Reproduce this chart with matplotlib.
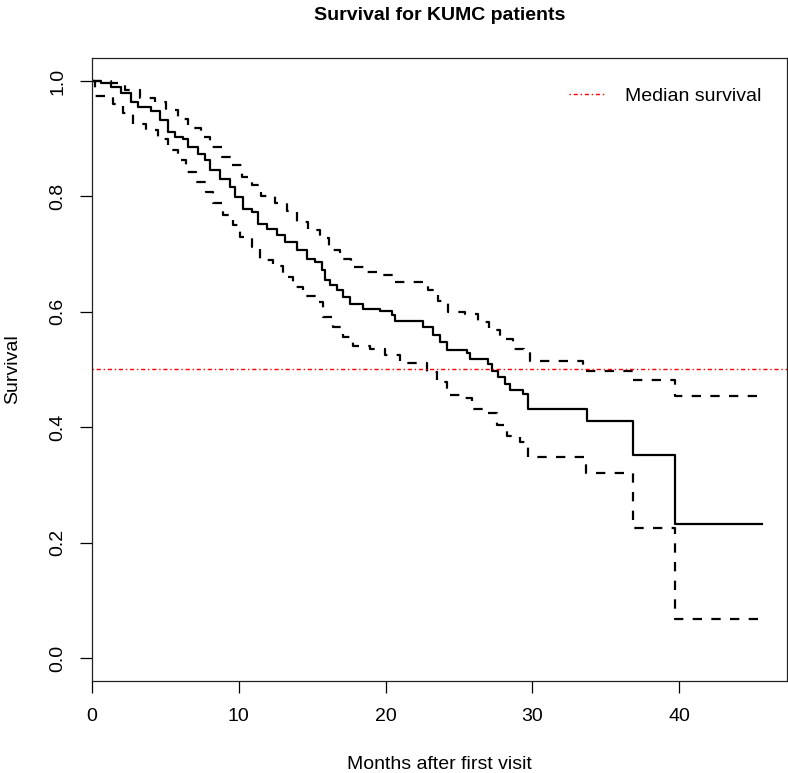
import numpy as np
import matplotlib.pyplot as plt

plt.rcParams["font.family"] = ["Liberation Sans", "DejaVu Sans"]

# Kaplan-Meier estimate (step after each time)
surv_t = [0, 0.61, 1.29, 1.98, 2.66, 3.13, 4.02, 4.63, 5.18, 5.66, 6.20, 6.54, 7.22,
          7.70, 8.04, 8.72, 9.40, 9.74, 10.29, 10.90, 11.31, 11.93, 12.61, 13.15,
          13.97, 14.65, 15.20, 15.67, 15.88, 16.22, 16.70, 17.10, 17.58, 18.47,
          19.63, 20.44, 20.65, 22.56, 23.24, 23.71, 24.19, 25.55, 25.76, 26.98,
          27.26, 27.67, 28.14, 28.48, 29.37, 29.71, 33.70, 36.87, 39.73, 45.63]
surv_s = [1.0, 0.996, 0.990, 0.979, 0.964, 0.955, 0.948, 0.932, 0.912, 0.903, 0.900,
          0.886, 0.874, 0.863, 0.845, 0.831, 0.817, 0.799, 0.779, 0.773, 0.753, 0.744,
          0.733, 0.721, 0.707, 0.692, 0.686, 0.672, 0.655, 0.646, 0.637, 0.626, 0.614,
          0.605, 0.602, 0.594, 0.584, 0.573, 0.559, 0.547, 0.533, 0.528, 0.519, 0.510,
          0.498, 0.487, 0.475, 0.464, 0.458, 0.432, 0.410, 0.351, 0.233, 0.233]

upper_t = [0, 1.29, 2.25, 3.27, 4.29, 5.04, 5.86, 6.54, 7.43, 8.04, 8.86, 9.54, 10.22,
           10.90, 11.52, 12.47, 13.29, 13.97, 14.72, 15.54, 16.15, 16.90, 17.65,
           18.74, 19.83, 20.65, 22.90, 23.58, 24.26, 25.42, 26.30, 27.05, 27.80,
           28.69, 29.44, 29.85, 33.46, 36.87, 39.73, 45.63]
upper_s = [1.0, 0.996, 0.984, 0.971, 0.964, 0.950, 0.935, 0.918, 0.903, 0.886, 0.869,
           0.854, 0.834, 0.819, 0.800, 0.788, 0.775, 0.756, 0.742, 0.728, 0.707, 0.692,
           0.678, 0.669, 0.663, 0.651, 0.637, 0.618, 0.600, 0.597, 0.582, 0.568, 0.552,
           0.536, 0.530, 0.514, 0.498, 0.481, 0.454, 0.454]

lower_t = [0, 0.2, 1.43, 2.11, 2.79, 3.68, 4.50, 5.18, 5.86, 6.41, 7.09, 7.77, 8.25,
           8.93, 9.61, 10.09, 10.90, 11.45, 12.33, 13.02, 13.70, 14.38, 15.26, 15.74,
           16.42, 17.10, 17.79, 18.94, 19.97, 20.99, 22.83, 23.51, 24.19, 25.21,
           25.89, 26.98, 27.60, 28.28, 29.17, 29.71, 33.66, 36.87, 39.73, 45.63]
lower_s = [1.0, 0.974, 0.961, 0.944, 0.926, 0.915, 0.900, 0.880, 0.863, 0.843, 0.825,
           0.808, 0.788, 0.767, 0.750, 0.730, 0.712, 0.690, 0.680, 0.660, 0.643, 0.628,
           0.617, 0.591, 0.573, 0.556, 0.540, 0.536, 0.525, 0.511, 0.495, 0.478, 0.455,
           0.450, 0.432, 0.424, 0.403, 0.385, 0.374, 0.348, 0.320, 0.2245, 0.068, 0.068]

median_level = 0.5
x_ticks = [0, 10, 20, 30, 40]
y_ticks = [0.0, 0.2, 0.4, 0.6, 0.8, 1.0]

FS = 14


def main():
    fig = plt.figure(figsize=(7.88, 7.73), dpi=100)
    ax = fig.add_axes([0.1168, 0.119, 0.882, 0.806])

    ax.plot(surv_t, surv_s, drawstyle="steps-post", color="black", lw=1.6)
    for t, s in [(upper_t, upper_s), (lower_t, lower_s)]:
        ax.plot(t, s, drawstyle="steps-post", color="black", lw=1.6,
                dashes=(4.2, 4.2))
    ax.axhline(median_level, color="#ff0000", lw=1.0, dashes=(1, 2, 3, 2),
               label="Median survival")

    ax.set_xlim(0, 47.36)
    ax.set_ylim(-0.04, 1.04)
    ax.set_xticks(x_ticks)
    ax.set_yticks(y_ticks)
    ax.set_yticklabels([f"{v:.1f}" for v in y_ticks], rotation=90, va="center")
    ax.tick_params(axis="both", length=8.6, width=0.9, labelsize=FS)
    ax.tick_params(axis="x", pad=11)
    ax.tick_params(axis="y", pad=10)
    for sp in ax.spines.values():
        sp.set_linewidth(0.9)
        sp.set_color("#222222")

    ax.set_title("Survival for KUMC patients", fontsize=FS, fontweight="bold",
                 pad=27)
    ax.set_xlabel("Months after first visit", fontsize=FS, labelpad=22)
    ax.set_ylabel("Survival", fontsize=FS, labelpad=20)

    ax.legend(loc="center left", bbox_to_anchor=(0.686, 0.939), frameon=False,
              borderpad=0, borderaxespad=0, handlelength=1.85,
              handletextpad=1.05, fontsize=FS)

    fig.savefig("out.png", dpi=100)


if __name__ == "__main__":
    main()
